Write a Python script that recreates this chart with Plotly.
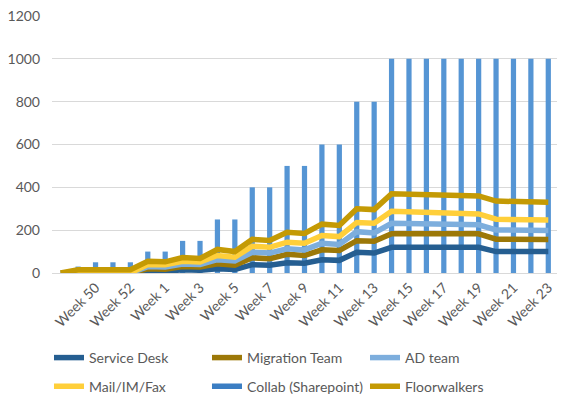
import plotly.graph_objects as go

weeks = ["Week 48", "Week 49", "Week 50", "Week 51", "Week 52", "Week 53"] + [f"Week {i}" for i in range(1, 24)]
tick_labels = weeks[2::2]

# Stacked line series (per-team increments)
service_desk = [0, 0, 0, 0, 0, 10, 8, 15, 13, 20, 16, 39, 36, 48, 46, 62, 59, 97, 93, 120, 120, 120, 120, 120, 120, 100, 100, 100, 100]
migration_team = [0, 0, 0, 0, 0, 10, 10, 15, 15, 23, 20, 32, 31, 39, 36, 46, 46, 54, 55, 63, 63, 63, 63, 63, 63, 58, 58, 57, 57]
ad_team = [0, 0, 0, 0, 0, 10, 10, 12, 12, 19, 20, 26, 26, 26, 26, 31, 28, 42, 39, 49, 48, 47, 46, 44, 42, 43, 42, 42, 41]
mail_im_fax = [0, 0, 0, 0, 0, 10, 10, 13, 12, 20, 18, 28, 27, 31, 31, 36, 37, 43, 45, 56, 55, 54, 52, 51, 51, 50, 50, 49, 49]
floorwalkers = [0, 15, 15, 15, 15, 15, 14, 17, 16, 28, 26, 32, 32, 46, 46, 53, 52, 64, 64, 82, 82, 82, 83, 84, 84, 85, 83, 83, 83]
# Collab (Sharepoint) drawn as thin columns
collab = [0, 30, 50, 50, 50, 100, 100, 150, 150, 250, 250, 400, 400, 500, 500, 600, 600, 800, 800,
          1000, 1000, 1000, 1000, 1000, 1000, 1000, 1000, 1000, 1000]

FONT = "Lato"
TXT = "#595959"
COL_SD = "#255E91"
COL_MT = "#9C7808"
COL_AD = "#7DAEDD"
COL_MAIL = "#FFCF3A"
COL_COLLAB = "#3B7EC3"
COL_BAR = "#5595D4"
COL_FW = "#C49A04"

fig = go.Figure()

fig.add_trace(go.Bar(x=weeks, y=collab, marker=dict(color=COL_BAR, line=dict(width=0)),
                     width=0.3, showlegend=False, name="Collab (Sharepoint)"))

line_series = [
    ("Service Desk", service_desk, COL_SD, "legend"),
    ("Migration Team", migration_team, COL_MT, "legend"),
    ("AD team", ad_team, COL_AD, "legend"),
    ("Mail/IM/Fax", mail_im_fax, COL_MAIL, "legend2"),
]
for name, vals, col, lg in line_series:
    fig.add_trace(go.Scatter(x=weeks, y=vals, mode="lines", name=name, stackgroup="s", fill="none",
                             line=dict(color=col, width=5.5), legend=lg))

# legend entry for the columns series, shown as a line like the original
fig.add_trace(go.Scatter(x=[None], y=[None], mode="lines", name="Collab (Sharepoint)",
                         line=dict(color=COL_COLLAB, width=5.5), legend="legend2"))

fig.add_trace(go.Scatter(x=weeks, y=floorwalkers, mode="lines", name="Floorwalkers", stackgroup="s", fill="none",
                         line=dict(color=COL_FW, width=5.5), legend="legend2"))

legend_common = dict(orientation="h", xanchor="left", yanchor="middle",
                     x=0.0732, xref="container", yref="container",
                     font=dict(family=FONT, size=14, color=TXT), entrywidth=113,
                     bgcolor="rgba(0,0,0,0)", itemclick=False)

fig.update_layout(
    width=560, height=390,
    margin=dict(l=44, r=10.5, t=7.5, b=125.3, autoexpand=False),
    paper_bgcolor="white", plot_bgcolor="white",
    font=dict(family=FONT, size=14, color=TXT),
    barmode="overlay",
    legend=dict(y=0.1026, **legend_common),
    legend2=dict(y=0.029, **legend_common),
    xaxis=dict(type="category", tickmode="array", tickvals=tick_labels, ticktext=tick_labels,
               tickangle=-45, showgrid=False, showline=True, linecolor="#D9D9D9", linewidth=1,
               ticks="", automargin=False, tickfont=dict(family=FONT, size=14, color=TXT)),
    yaxis=dict(range=[0, 1200], dtick=200, showgrid=True, gridcolor="#D9D9D9", gridwidth=1,
               zeroline=False, showline=False, ticks="", ticklabelstandoff=11, automargin=False,
               ticklabeloverflow="allow",
               tickfont=dict(family=FONT, size=14, color=TXT)),
)

fig.write_html("out.html")
